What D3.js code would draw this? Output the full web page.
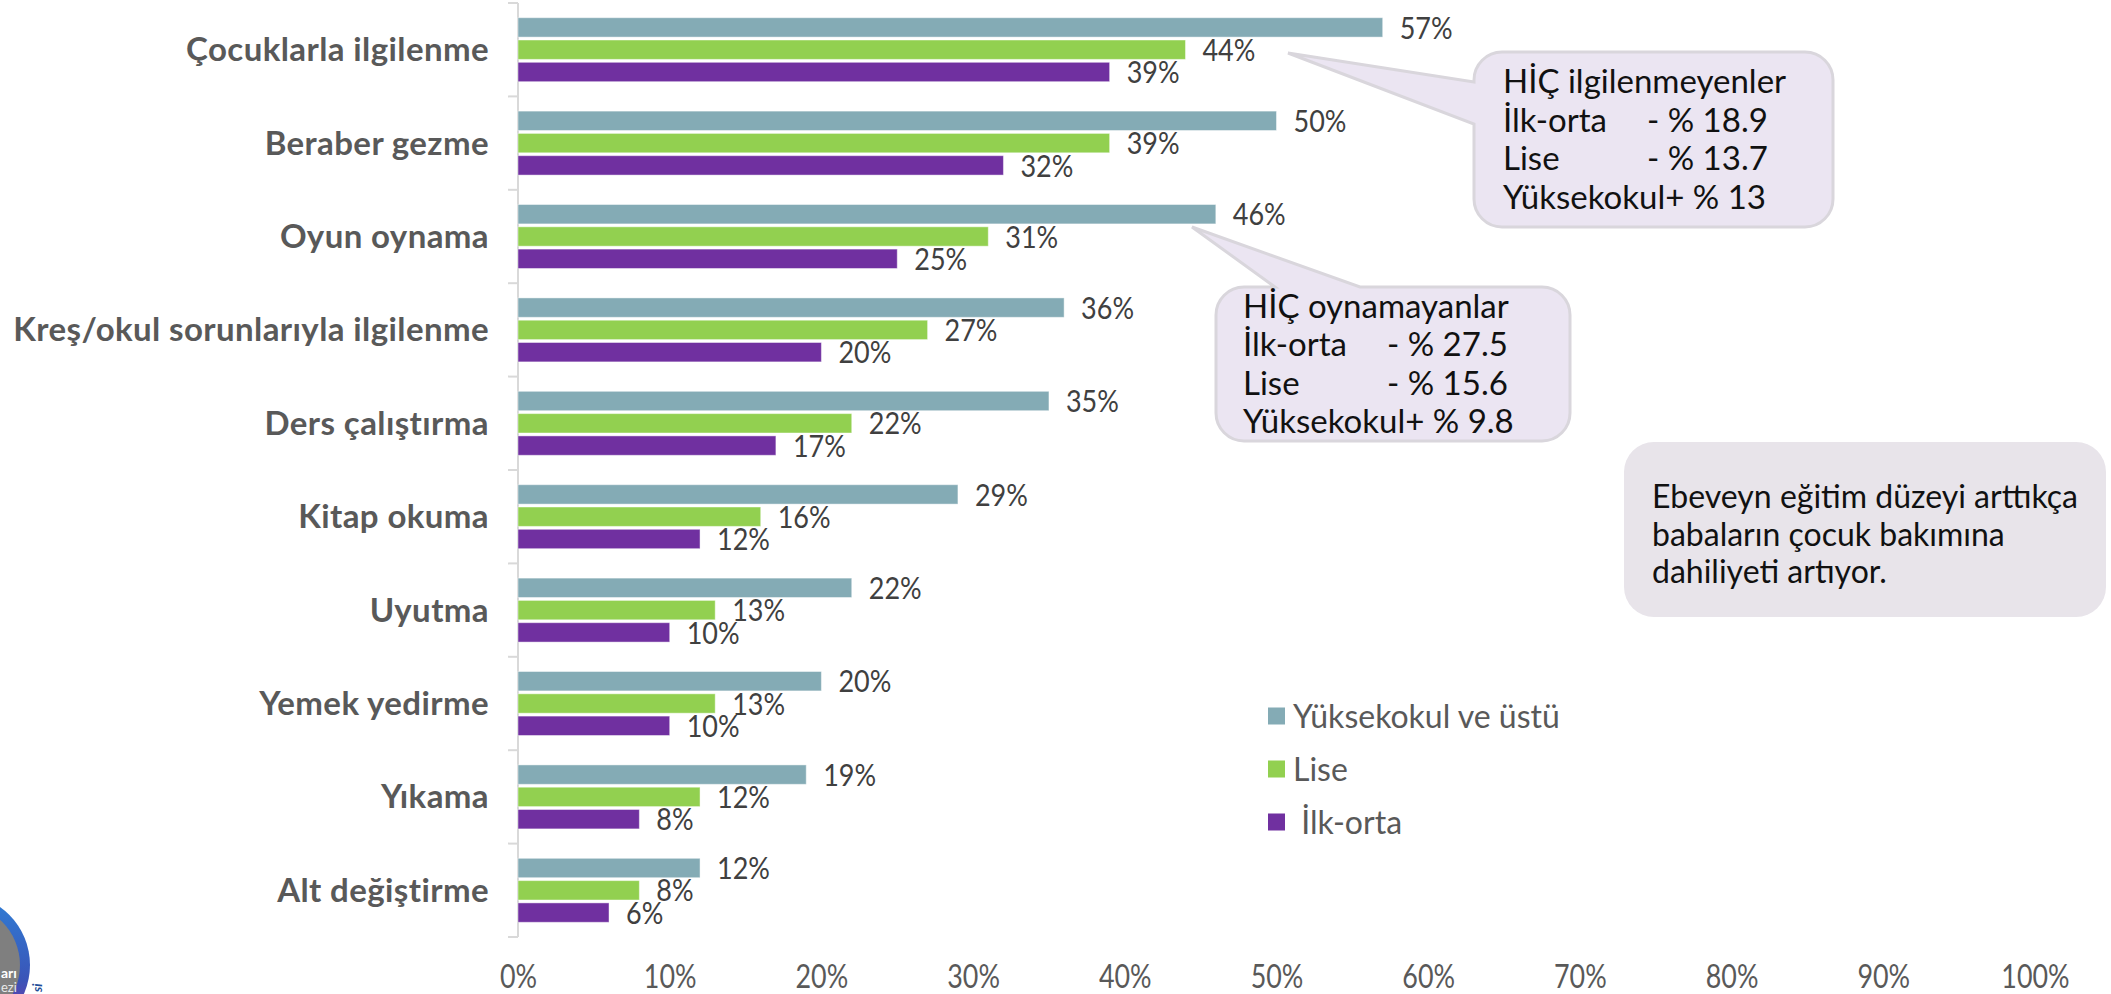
<!DOCTYPE html>
<html>
<head>
<meta charset="utf-8">
<script src="https://cdn.jsdelivr.net/npm/d3@7"></script>
<style>
  body { margin: 0; background: #fff; }
  svg { display: block; font-family: Lato, "Open Sans", sans-serif; }
</style>
</head>
<body>
<svg width="2111" height="994"></svg>
<script>
// categories (top to bottom)
const categories = ['Çocuklarla ilgilenme', 'Beraber gezme', 'Oyun oynama', 'Kreş/okul sorunlarıyla ilgilenme',
  'Ders çalıştırma', 'Kitap okuma', 'Uyutma', 'Yemek yedirme', 'Yıkama', 'Alt değiştirme'];
// series values, in %
const yuksekokul = [57, 50, 46, 36, 35, 29, 22, 20, 19, 12];
const lise = [44, 39, 31, 27, 22, 16, 13, 13, 12, 8];
const ilkOrta = [39, 32, 25, 20, 17, 12, 10, 10, 8, 6];
const seriesNames = ['Yüksekokul ve üstü', 'Lise', ' İlk-orta'];
const seriesColors = ['#84abb5', '#92d050', '#7030a0'];
const xTicks = [0, 10, 20, 30, 40, 50, 60, 70, 80, 90, 100];

// callout texts
const callout1 = [['HİÇ ilgilenmeyenler', ''], ['İlk-orta', '- % 18.9'], ['Lise', '- % 13.7'], ['Yüksekokul+ % 13', '']];
const callout2 = [['HİÇ oynamayanlar', ''], ['İlk-orta', '- % 27.5'], ['Lise', '- % 15.6'], ['Yüksekokul+ % 9.8', '']];
const note = ['Ebeveyn eğitim düzeyi arttıkça', 'babaların çocuk bakımına', 'dahiliyeti artıyor.'];

const series = [yuksekokul, lise, ilkOrta];
const svg = d3.select('svg');

const x = d3.scaleLinear().domain([0, 100]).range([518, 2035]);
const y0 = d3.scaleBand().domain(categories).range([3, 937]).paddingInner(0.315).paddingOuter(0.1575);
const y1 = d3.scaleBand().domain(d3.range(3)).range([0, y0.bandwidth()]).paddingInner(0.13);

// logo fragment, bottom left
const defs = svg.append('defs');
const grad = defs.append('linearGradient').attr('id', 'ring').attr('x1', 0).attr('y1', 0).attr('x2', 0).attr('y2', 1);
grad.append('stop').attr('offset', '0%').attr('stop-color', '#2f7fd6');
grad.append('stop').attr('offset', '60%').attr('stop-color', '#3a55b8');
grad.append('stop').attr('offset', '100%').attr('stop-color', '#8a2aa0');
svg.append('circle').attr('cx', -41).attr('cy', 965).attr('r', 71).attr('fill', 'url(#ring)');
svg.append('circle').attr('cx', -41).attr('cy', 965).attr('r', 61).attr('fill', '#7f7f7f');
svg.append('text').attr('x', 1).attr('y', 978).attr('fill', '#fff').attr('font-size', 14).attr('font-weight', 700).text('arı');
svg.append('text').attr('x', 1).attr('y', 992).attr('fill', '#e8e8e8').attr('font-size', 13).text('ezi');
svg.append('text').attr('transform', 'translate(42,992) rotate(-90)').attr('fill', '#1f4e99')
  .attr('font-size', 13).attr('font-weight', 700).attr('font-style', 'italic').text('si');

// category axis: vertical line + ticks at band boundaries
const axisG = svg.append('g');
axisG.append('line').attr('x1', 518).attr('x2', 518).attr('y1', 3).attr('y2', 937)
  .attr('stroke', '#d9d9d9').attr('stroke-width', 2);
axisG.selectAll('.tick').data(d3.range(categories.length + 1)).enter().append('line')
  .attr('x1', 508).attr('x2', 518)
  .attr('y1', i => 3 + i * y0.step()).attr('y2', i => 3 + i * y0.step())
  .attr('stroke', '#d9d9d9').attr('stroke-width', 2);

svg.append('g').selectAll('text').data(categories).enter().append('text')
  .attr('x', 489).attr('y', d => y0(d) + y0.bandwidth() / 2).attr('dy', '0.35em')
  .attr('text-anchor', 'end').style('font-size', '33px').attr('font-weight', 700).attr('fill', '#595959')
  .style('letter-spacing', '0.4px')
  .text(d => d);

// bars
const groups = svg.append('g').selectAll('g').data(categories).enter().append('g')
  .attr('transform', d => `translate(0,${y0(d)})`);

groups.selectAll('rect').data((d, i) => series.map((s, k) => ({k, v: s[i]}))).enter().append('rect')
  .attr('x', x(0)).attr('y', d => y1(d.k))
  .attr('width', d => x(d.v) - x(0)).attr('height', y1.bandwidth())
  .attr('fill', d => seriesColors[d.k])
  .attr('stroke', 'rgba(255,255,255,0.45)').attr('stroke-width', 1);

groups.selectAll('g.lbl').data((d, i) => series.map((s, k) => ({k, v: s[i]}))).enter().append('g')
  .attr('class', 'lbl')
  .attr('transform', d => `translate(${x(d.v) + 17},${y1(d.k) + y1.bandwidth() / 2})`)
  .append('text').attr('transform', 'scale(0.87,1)').attr('dy', '0.36em')
  .style('font-size', '31px').attr('fill', '#404040').text(d => d.v + '%');

// x axis
const xAxis = svg.append('g').attr('transform', 'translate(0,962)')
  .call(d3.axisBottom(x).tickValues(xTicks).tickFormat(d => d + '%').tickSize(0));
xAxis.select('.domain').remove();
xAxis.selectAll('text').style('font-size', '32px').style('font-family', 'Lato, sans-serif')
  .attr('fill', '#595959').attr('transform', 'scale(0.84,1)');

// legend
const leg = svg.append('g').selectAll('g').data(seriesNames).enter().append('g')
  .attr('transform', (d, i) => `translate(1268,${716 + i * 53})`);
leg.append('rect').attr('x', 0).attr('y', -8.5).attr('width', 17).attr('height', 17)
  .attr('fill', (d, i) => seriesColors[i]);
leg.append('text').attr('x', 25).attr('y', 11.5).style('font-size', '32px').attr('fill', '#595959')
  .style('white-space', 'pre').text(d => d);

// callout shapes
function bubble(x1, y1, x2, y2, r, ptr) {
  const p = d3.path();
  p.moveTo(x1 + r, y1);
  if (ptr && ptr.side === 'top') {
    p.lineTo(ptr.a, y1); p.lineTo(ptr.tx, ptr.ty); p.lineTo(ptr.b, y1);
  }
  p.lineTo(x2 - r, y1);
  p.arcTo(x2, y1, x2, y1 + r, r);
  p.lineTo(x2, y2 - r);
  p.arcTo(x2, y2, x2 - r, y2, r);
  p.lineTo(x1 + r, y2);
  p.arcTo(x1, y2, x1, y2 - r, r);
  if (ptr && ptr.side === 'left') {
    p.lineTo(x1, ptr.b); p.lineTo(ptr.tx, ptr.ty); p.lineTo(x1, ptr.a);
  }
  p.lineTo(x1, y1 + r);
  p.arcTo(x1, y1, x1 + r, y1, r);
  p.closePath();
  return p.toString();
}

svg.append('path').attr('d', bubble(1474, 52, 1833, 227, 28, {side: 'left', a: 82, b: 124, tx: 1288, ty: 53}))
  .attr('fill', '#ebe5f2').attr('stroke', '#d9d6dc').attr('stroke-width', 3);
svg.append('path').attr('d', bubble(1216, 287, 1570, 441, 28, {side: 'top', a: 1275, b: 1360, tx: 1192, ty: 227}))
  .attr('fill', '#ebe5f2').attr('stroke', '#d9d6dc').attr('stroke-width', 3);
svg.append('path').attr('d', bubble(1624, 442, 2106, 617, 30, null)).attr('fill', '#e8e4ea');

function calloutText(lines, tx, colX, baseY, step) {
  const g = svg.append('g');
  lines.forEach((l, i) => {
    g.append('text').attr('x', tx).attr('y', baseY + i * step).style('font-size', '33px').attr('fill', '#111').text(l[0]);
    if (l[1]) g.append('text').attr('x', colX).attr('y', baseY + i * step).style('font-size', '33px').attr('fill', '#111').text(l[1]);
  });
}
calloutText(callout1, 1503, 1647, 93, 38.5);
calloutText(callout2, 1243, 1387, 318, 38.3);

svg.append('g').selectAll('text').data(note).enter().append('text')
  .attr('x', 1652).attr('y', (d, i) => 508 + i * 37.5).style('font-size', '32px').attr('fill', '#111')
  .text(d => d);
</script>
</body>
</html>
